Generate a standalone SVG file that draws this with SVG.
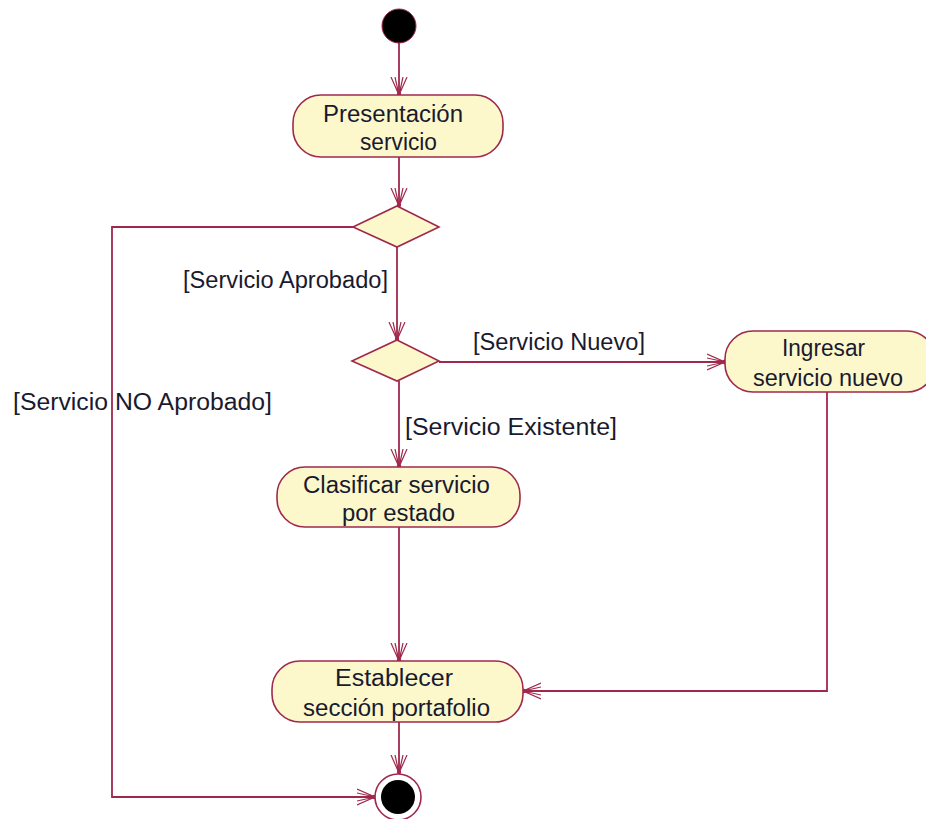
<svg xmlns="http://www.w3.org/2000/svg" width="926" height="819" viewBox="0 0 926 819">
  <defs>
    <style>
      .act { fill: #FCF8CC; stroke: #A0284C; stroke-width: 1.6; }
      .dec { fill: #FCF8CC; stroke: #A0284C; stroke-width: 1.6; }
      .edge { fill: none; stroke: #A0284C; stroke-width: 1.8; }
      .lbl { font-family: "Liberation Sans", Arial, sans-serif; font-size: 23px; fill: #1a1a2e; }
      .node-t { font-family: "Liberation Sans", Arial, sans-serif; font-size: 23px; fill: #1a1a2e; }
    </style>
    <marker id="arr" viewBox="0 0 20 20" refX="18" refY="10" markerWidth="20" markerHeight="20" markerUnits="userSpaceOnUse" orient="auto">
      <path d="M0,2 L18,10 L0,18 M0,6 L18,10 L0,14" fill="none" stroke="#A0284C" stroke-width="1.2"/>
      <circle cx="17" cy="10" r="2.2" fill="#A0284C"/>
    </marker>
  </defs>

  <!-- transitions between activities -->
  <g id="connectors">
    <line class="edge" x1="399" y1="43" x2="399" y2="95" marker-end="url(#arr)"/>
    <line class="edge" x1="399" y1="157" x2="399" y2="206" marker-end="url(#arr)"/>
    <line class="edge" x1="397" y1="247" x2="397" y2="340" marker-end="url(#arr)"/>
    <line class="edge" x1="439" y1="362" x2="725" y2="362" marker-end="url(#arr)"/>
    <line class="edge" x1="399" y1="381" x2="399" y2="467" marker-end="url(#arr)"/>
    <line class="edge" x1="399" y1="527" x2="399" y2="661" marker-end="url(#arr)"/>
    <polyline class="edge" points="827,392 827,691 523,691" marker-end="url(#arr)"/>
    <line class="edge" x1="399" y1="722" x2="399" y2="773" marker-end="url(#arr)"/>
    <polyline class="edge" points="353,227 112,227 112,797 375,797" marker-end="url(#arr)"/>
    <text class="lbl" x="183" y="288" textLength="205" lengthAdjust="spacingAndGlyphs">[Servicio Aprobado]</text>
    <text class="lbl" x="473" y="350" textLength="172" lengthAdjust="spacingAndGlyphs">[Servicio Nuevo]</text>
    <text class="lbl" x="13" y="410" textLength="259" lengthAdjust="spacingAndGlyphs">[Servicio NO Aprobado]</text>
    <text class="lbl" x="405" y="435" textLength="212" lengthAdjust="spacingAndGlyphs">[Servicio Existente]</text>
  </g>

  <g id="start">
    <circle cx="399" cy="26" r="17" fill="#000" stroke="#A0284C" stroke-width="1"/>
  </g>

  <g id="presentacion">
    <rect class="act" x="293" y="95" width="210" height="62" rx="28" ry="28"/>
    <text class="node-t" x="323" y="122" textLength="140" lengthAdjust="spacingAndGlyphs">Presentación</text>
    <text class="node-t" x="360" y="150" textLength="77" lengthAdjust="spacingAndGlyphs">servicio</text>
  </g>

  <g id="decision1">
    <polygon class="dec" points="397,206 439,227 397,247 353,227"/>
  </g>

  <g id="decision2">
    <polygon class="dec" points="397,340 439,361 397,381 352,361"/>
  </g>

  <g id="ingresar">
    <rect class="act" x="725" y="331" width="210" height="61" rx="28" ry="28"/>
    <text class="node-t" x="782" y="356" textLength="83" lengthAdjust="spacingAndGlyphs">Ingresar</text>
    <text class="node-t" x="753" y="386" textLength="150" lengthAdjust="spacingAndGlyphs">servicio nuevo</text>
  </g>

  <g id="clasificar">
    <rect class="act" x="277" y="467" width="243" height="60" rx="28" ry="28"/>
    <text class="node-t" x="303" y="493" textLength="187" lengthAdjust="spacingAndGlyphs">Clasificar servicio</text>
    <text class="node-t" x="342" y="521" textLength="113" lengthAdjust="spacingAndGlyphs">por estado</text>
  </g>

  <g id="establecer">
    <rect class="act" x="272" y="661" width="251" height="61" rx="28" ry="28"/>
    <text class="node-t" x="335" y="686" textLength="118" lengthAdjust="spacingAndGlyphs">Establecer</text>
    <text class="node-t" x="303" y="716" textLength="187" lengthAdjust="spacingAndGlyphs">sección portafolio</text>
  </g>

  <g id="end">
    <circle cx="398" cy="797" r="23" fill="#fff" stroke="#A0284C" stroke-width="1.6"/>
    <circle cx="398" cy="797" r="17" fill="#000"/>
  </g>
</svg>
